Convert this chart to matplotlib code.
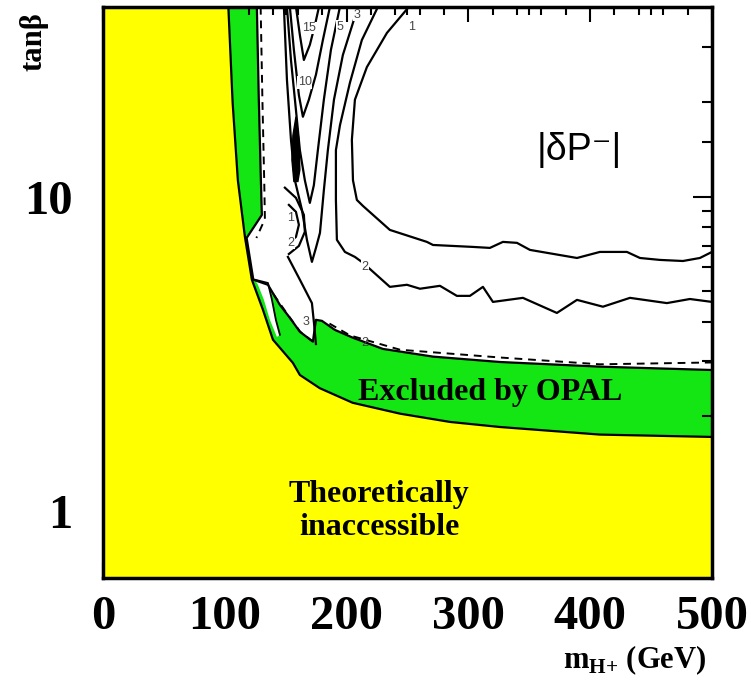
import numpy as np
import matplotlib
matplotlib.use('Agg')
import matplotlib.pyplot as plt
from matplotlib.ticker import FixedLocator, NullFormatter

plt.rcParams['mathtext.fontset'] = 'custom'
plt.rcParams['mathtext.rm'] = 'Liberation Serif:bold'
plt.rcParams['mathtext.bf'] = 'Liberation Serif:bold'

SERIF = 'Liberation Serif'
SANS = ['Liberation Sans', 'DejaVu Sans']

# theoretically inaccessible region, upper edge (m_H+ [GeV], tan beta)
theory_x = [103.0, 106.5, 110.8, 116.6, 122.3, 131.4, 139.6, 156.0, 161.7, 178.0,
            205.0, 244.0, 285.0, 326.0, 408.0, 500.0]
theory_y = [40.3, 20.0, 11.3, 7.46, 5.45, 4.37, 3.51, 2.96, 2.71, 2.46,
            2.21, 2.04, 1.92, 1.85, 1.75, 1.72]

# OPAL excluded region, outer edge
opal_x = [126.4, 128.0, 129.7, 130.5, 118.0, 123.5, 135.5, 145.3, 153.5, 161.7,
          172.4, 174.9, 179.8, 190.5, 205.3, 229.9, 271.0, 326.0, 408.0, 500.0]
opal_y = [40.3, 20.4, 11.3, 8.76, 7.40, 5.45, 5.25, 4.53, 4.12, 3.72,
          3.46, 4.06, 4.03, 3.77, 3.56, 3.28, 3.10, 2.98, 2.88, 2.81]

# white gap between the two regions
gap_x = [124.8, 135.5, 138.8, 142.0, 145.3, 142.9, 137.1, 132.2, 127.3]
gap_y = [5.45, 5.32, 4.70, 4.06, 3.64, 3.58, 4.06, 4.70, 5.25]

# dashed limit
dash1_x = [129.5, 131.0, 132.5, 133.0, 126.0]
dash1_y = [40.3, 20.0, 11.0, 8.5, 7.4]
dash2_x = [140.0, 153.0, 162.0, 172.0]
dash2_y = [4.90, 4.15, 3.72, 3.47]
dash3_x = [186.0, 203.0, 244.0, 326.0, 408.0, 500.0]
dash3_y = [3.95, 3.62, 3.26, 3.08, 2.93, 2.97]

# |dP-| contours
c1_x = [251.2, 233.2, 216.7, 206.9, 204.4, 205.3, 208.5, 213.5, 235.6, 266.0, 271.0, 303.8,
        317.7, 328.4, 339.9, 350.6, 389.2, 408.0, 430.2, 440.9, 457.3, 476.2, 490.1, 500.0]
c1_y = [40.3, 33.3, 25.9, 20.4, 15.2, 11.3, 9.78, 9.36, 7.85, 7.19, 7.03, 6.93,
        6.88, 7.19, 7.14, 6.78, 6.39, 6.68, 6.68, 6.39, 6.30, 6.25, 6.39, 6.68]
c2_x = [225.8, 212.6, 202.8, 194.6, 191.3, 191.3, 192.1, 198.7, 206.9, 213.5, 235.6, 249.6, 260.3,
        276.7, 290.6, 301.3, 312.0, 320.2, 344.8, 372.7, 389.2, 410.5, 432.7, 463.0, 481.9, 500.0]
c2_y = [40.3, 31.6, 23.1, 16.9, 14.1, 9.78, 7.30, 6.68, 6.44, 6.17, 5.17, 5.25, 5.10,
        5.21, 4.84, 4.84, 5.17, 4.63, 4.77, 4.27, 4.70, 4.47, 4.77, 4.59, 4.73, 4.63]
c3_x = [148.6, 151.1, 154.4, 157.6, 163.4, 167.5, 171.6, 174.9, 178.2, 181.4, 184.7, 189.7, 197.0, 209.4]
c3_y = [40.3, 23.6, 15.2, 11.3, 9.10, 7.30, 6.21, 6.88, 7.68, 10.5, 14.1, 20.4, 28.3, 40.3]
c3b_x = [151.9, 161.7, 171.6, 173.2, 174.9]
c3b_y = [6.44, 5.45, 4.59, 4.00, 3.40]
c5_x = [151.1, 154.4, 158.5, 161.7, 165.8, 169.9, 173.2, 176.5, 181.4, 187.2, 194.6]
c5_y = [40.3, 27.3, 18.9, 14.1, 11.3, 9.57, 10.9, 14.1, 20.4, 29.4, 40.3]
c10_x = [153.5, 156.8, 160.9, 164.2, 169.1, 174.9, 180.6, 186.4]
c10_y = [40.3, 29.4, 21.1, 18.0, 20.4, 24.5, 31.6, 40.3]
c15_x = [158.5, 161.7, 165.0, 169.9, 174.1, 177.4]
c15_y = [40.3, 32.8, 27.3, 30.5, 35.3, 40.3]
arc2_x = [149.4, 158.5, 165.0, 165.8, 160.9, 152.7]
arc2_y = [10.7, 9.93, 8.77, 7.74, 6.98, 6.58]
arc1_x = [152.7, 158.5, 160.9, 158.5, 153.5]
arc1_y = [9.43, 8.96, 8.15, 7.46, 7.19]
blob_x = [158.5, 160.9, 161.7, 160.1, 156.8, 155.2, 156.0]
blob_y = [18.0, 15.2, 12.2, 11.2, 11.2, 13.1, 15.7]

label_txt = ['15', '5', '3', '1', '10', '1', '2', '2', '3', '2']
label_x = [169.6, 194.6, 208.5, 253.7, 165.8, 154.4, 154.4, 215.1, 166.7, 215.1]
label_y = [34.5, 34.8, 38.1, 34.8, 23.2, 8.57, 7.14, 5.99, 3.99, 3.43]

x_major = [0, 100, 200, 300, 400, 500]
x_minor = [b + d for b in x_major[:-1] for d in (20, 40, 50, 60, 80)]
y_major = [1, 10]
y_minor = [0.7, 0.8, 0.9, 2, 3, 4, 5, 6, 7, 8, 9, 15, 20, 30]

XMIN, XMAX, YMIN, YMAX = 0, 500, 0.61, 40.3

fig = plt.figure(figsize=(7.51, 6.86), dpi=100)
ax = fig.add_axes([0.137, 0.157, 0.811, 0.833])
ax.set_yscale('log')
ax.set_xlim(XMIN, XMAX)
ax.set_ylim(YMIN, YMAX)

green = '#14e614'
yellow = '#ffff00'

# regions
ax.fill([XMIN, XMIN] + opal_x + [XMAX], [YMIN, YMAX] + opal_y + [YMIN],
        color=green, lw=0, zorder=1)
ax.fill(gap_x, gap_y, color='white', lw=0, zorder=1.5)
ax.plot(gap_x[:5], gap_y[:5], 'k-', lw=1.3, zorder=3)
ax.fill([XMIN, XMIN] + theory_x + [XMAX], [YMIN, YMAX] + theory_y + [YMIN],
        color=yellow, lw=0, zorder=2)
ax.plot(opal_x, opal_y, 'k-', lw=1.6, zorder=3)
ax.plot(theory_x, theory_y, 'k-', lw=1.6, zorder=3)
for dx, dy in [(dash1_x, dash1_y), (dash2_x, dash2_y), (dash3_x, dash3_y)]:
    ax.plot(dx, dy, 'k--', lw=1.4, dashes=(4, 3), zorder=3)

# contours
for cx, cy in [(c1_x, c1_y), (c2_x, c2_y), (c3_x, c3_y), (c3b_x, c3b_y), (c5_x, c5_y),
               (c10_x, c10_y), (c15_x, c15_y), (arc1_x, arc1_y), (arc2_x, arc2_y)]:
    ax.plot(cx, cy, 'k-', lw=1.6, zorder=4)
ax.fill(blob_x, blob_y, color='k', lw=1, zorder=4)

for t, lx, ly in zip(label_txt, label_x, label_y):
    ax.text(lx, ly, t, fontsize=9, color='#444444', family=SANS, ha='center', va='center',
            zorder=5, bbox=dict(fc='white', ec='none', pad=0.3) if ly > 3.7 else None)

# annotations
ax.text(390.8, 14.1, '|δP⁻|', fontsize=27, family=SANS, ha='center', va='center', zorder=6)
ax.text(317.7, 2.38, 'Excluded by OPAL', fontsize=23, family=SERIF, weight='bold',
        ha='center', va='center', zorder=6)
ax.text(227.0, 1.0, 'Theoretically\ninaccessible', fontsize=23, family=SERIF, weight='bold',
        ha='center', va='center', linespacing=1.2, zorder=6)

# axes styling
ax.set_xticks(x_major)
ax.xaxis.set_minor_locator(FixedLocator(x_minor))
ax.set_yticks(y_major)
ax.set_yticklabels([str(v) for v in y_major])
ax.yaxis.set_minor_locator(FixedLocator(y_minor))
ax.yaxis.set_minor_formatter(NullFormatter())
ax.tick_params(axis='both', which='both', direction='in', top=True, right=True, width=1.5)
ax.tick_params(axis='x', which='major', length=11, pad=12)
ax.tick_params(axis='x', which='minor', length=6)
ax.tick_params(axis='y', which='major', length=14, pad=22)
ax.tick_params(axis='y', which='minor', length=7)
for lab in ax.get_xticklabels() + ax.get_yticklabels():
    lab.set_fontfamily(SERIF)
    lab.set_fontweight('bold')
    lab.set_fontsize(35)
for sp in ax.spines.values():
    sp.set_linewidth(2.5)
    sp.set_zorder(10)

fig.text(0.94, 0.038, r'$\mathrm{m}_{\mathrm{H}\text{+}}$ (GeV)', fontsize=22, family=SERIF,
         weight='bold', ha='right', va='center')
fig.text(0.045, 0.94, 'tanβ', fontsize=22, family=SERIF, weight='bold', rotation=90,
         ha='center', va='center')

fig.savefig('out.png', dpi=100)
